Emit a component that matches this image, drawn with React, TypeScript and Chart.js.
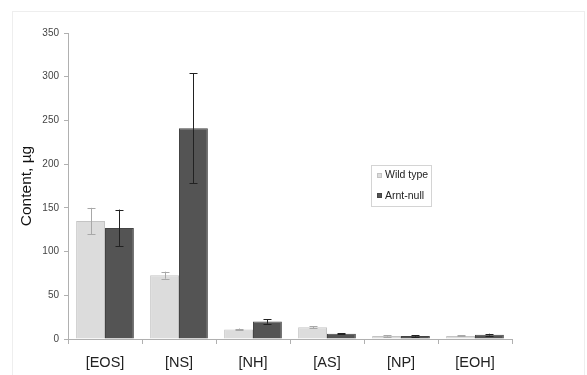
import React, { useEffect, useRef } from "react";
import { Chart, registerables } from "chart.js";

Chart.register(...registerables);

const categories = ["[EOS]", "[NS]", "[NH]", "[AS]", "[NP]", "[EOH]"];
const wildType = [135, 73, 11, 13.5, 3.5, 3.5];
const wildTypeErr = [15, 4, 1, 1, 0.8, 0.6];
const arntNull = [127, 241, 20, 6, 3.5, 5];
const arntNullErr = [21, 63, 2.5, 0.8, 0.8, 1];
const yTicks = [0, 50, 100, 150, 200, 250, 300, 350];

const FONT = "'Liberation Sans', Arial, sans-serif";

const errorBarPlugin = {
  id: "errorBars",
  afterDatasetsDraw(chart: any) {
    const ctx = chart.ctx;
    const yScale = chart.scales.y;
    chart.data.datasets.forEach((ds: any, di: number) => {
      const meta = chart.getDatasetMeta(di);
      const errs: number[] = ds.errors;
      ctx.save();
      ctx.strokeStyle = ds.errorColor;
      ctx.lineWidth = 1;
      meta.data.forEach((bar: any, i: number) => {
        const v = ds.data[i];
        const e = errs[i];
        const x = Math.round(bar.x) + 0.5;
        const yt = yScale.getPixelForValue(v + e);
        const yb = yScale.getPixelForValue(v - e);
        ctx.beginPath();
        ctx.moveTo(x, yt);
        ctx.lineTo(x, yb);
        ctx.moveTo(x - 4, Math.round(yt) + 0.5);
        ctx.lineTo(x + 4, Math.round(yt) + 0.5);
        ctx.moveTo(x - 4, Math.round(yb) + 0.5);
        ctx.lineTo(x + 4, Math.round(yb) + 0.5);
        ctx.stroke();
      });
      ctx.restore();
    });
  },
};

const frameLegendPlugin = {
  id: "frameLegend",
  beforeDraw(chart: any) {
    const ctx = chart.ctx;
    ctx.save();
    ctx.fillStyle = "#ffffff";
    ctx.fillRect(0, 0, chart.width, chart.height);
    ctx.strokeStyle = "#eeeeee";
    ctx.lineWidth = 1;
    ctx.strokeRect(12.5, 11.5, 572, 380);
    ctx.restore();
  },
  afterDraw(chart: any) {
    const ctx = chart.ctx;
    ctx.save();
    const bx = 371.5, by = 165.5, bw = 60, bh = 41;
    ctx.strokeStyle = "#d4d4d4";
    ctx.lineWidth = 1;
    ctx.strokeRect(bx, by, bw, bh);
    ctx.font = `10.5px ${FONT}`;
    ctx.textBaseline = "middle";
    ctx.textAlign = "left";
    chart.data.datasets.forEach((ds: any, i: number) => {
      const cy = 175.5 + i * 20.5;
      ctx.fillStyle = ds.backgroundColor;
      ctx.fillRect(377, Math.round(cy - 3), 5, 5);
      ctx.strokeStyle = ds.borderColor;
      ctx.strokeRect(377.5, Math.round(cy - 3) + 0.5, 4, 4);
      ctx.fillStyle = "#222222";
      ctx.fillText(ds.label, 385, cy);
    });
    ctx.restore();
  },
};

export default function App() {
  const ref = useRef<HTMLCanvasElement>(null);
  useEffect(() => {
    if (!ref.current) return;
    const chart = new Chart(ref.current, {
      type: "bar",
      data: {
        labels: categories,
        datasets: [
          {
            label: "Wild type",
            data: wildType,
            backgroundColor: "#dcdcdc",
            borderColor: "#c4c4c4",
            borderWidth: 1,
            errors: wildTypeErr,
            errorColor: "#a8a8a8",
          } as any,
          {
            label: "Arnt-null",
            data: arntNull,
            backgroundColor: "#545454",
            borderColor: "#444444",
            borderWidth: 1,
            errors: arntNullErr,
            errorColor: "#222222",
          } as any,
        ],
      },
      options: {
        animation: false,
        responsive: false,
        maintainAspectRatio: false,
        layout: { padding: { left: 12, right: 75, top: 33, bottom: 0 } },
        datasets: { bar: { categoryPercentage: 0.78, barPercentage: 1 } },
        plugins: {
          legend: { display: false },
          tooltip: { enabled: false },
          title: { display: false },
        },
        scales: {
          x: {
            offset: true,
            grid: {
              offset: true,
              drawOnChartArea: false,
              drawTicks: true,
              tickLength: 5,
              color: "#b0b0b0",
            },
            border: { display: true, color: "#b0b0b0" },
            ticks: {
              color: "#222222",
              font: { family: FONT, size: 14.5 },
              padding: 10,
              maxRotation: 0,
            },
            afterFit(scale: any) {
              scale.height = 36;
            },
          },
          y: {
            min: 0,
            max: 350,
            afterBuildTicks(scale: any) {
              scale.ticks = yTicks.map((v) => ({ value: v }));
            },
            grid: {
              drawOnChartArea: false,
              drawTicks: true,
              tickLength: 4,
              color: "#b0b0b0",
            },
            border: { display: true, color: "#b0b0b0" },
            ticks: {
              color: "#444444",
              font: { family: FONT, size: 10 },
              padding: 5,
            },
            title: {
              display: true,
              text: "Content, µg",
              color: "#111111",
              font: { family: FONT, size: 15.5 },
              padding: { top: 5, bottom: 4 },
            },
            afterFit(scale: any) {
              scale.width = 56;
            },
          },
        },
      },
      plugins: [errorBarPlugin, frameLegendPlugin],
    });
    return () => chart.destroy();
  }, []);
  return (
    <div style={{ position: "fixed", left: 0, top: 0, width: 587, height: 375 }}>
      <canvas ref={ref} width={587} height={375} style={{ width: 587, height: 375 }} />
    </div>
  );
}
